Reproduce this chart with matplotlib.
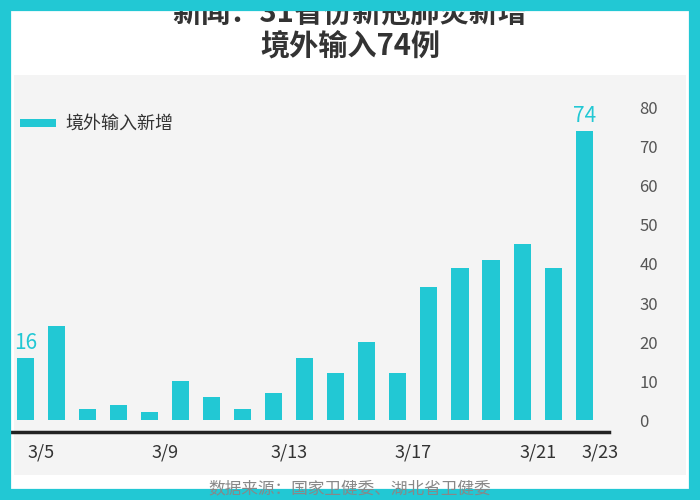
import matplotlib.pyplot as plt
from matplotlib.patches import Rectangle

plt.rcParams['font.family'] = ['Noto Sans CJK SC', 'DejaVu Sans']

dates = ["3/5", "3/6", "3/7", "3/8", "3/9", "3/10", "3/11", "3/12", "3/13", "3/14",
         "3/15", "3/16", "3/17", "3/18", "3/19", "3/20", "3/21", "3/22", "3/23"]
imported = [16, 24, 3, 4, 2, 10, 6, 3, 7, 16, 12, 20, 12, 34, 39, 41, 45, 39, 74]
shown_ticks = ["3/5", "3/9", "3/13", "3/17", "3/21", "3/23"]

CYAN = "#22c8d4"

fig = plt.figure(figsize=(7, 5), dpi=100)
fig.patch.set_facecolor("white")

# cyan frame and light grey chart panel
fig.add_artist(Rectangle((0, 0), 1, 1, transform=fig.transFigure, fill=False,
                         edgecolor=CYAN, linewidth=16, zorder=5))
fig.add_artist(Rectangle((0.02, 0.05), 0.96, 0.80, transform=fig.transFigure,
                         facecolor="#f4f4f4", edgecolor="none", zorder=-1))

ax = fig.add_axes([0.014, 0.136, 0.856, 0.68])
ax.set_facecolor("none")
x = list(range(len(dates)))
ax.bar(x, imported, width=0.55, color=CYAN, label="境外输入新增")
ax.set_xlim(-0.5, 18.8)
ax.set_ylim(-3, 84)
ax.axhline(-3, color="#222222", linewidth=2.5, clip_on=False)

for s in ax.spines.values():
    s.set_visible(False)
ax.yaxis.tick_right()
ax.set_yticks(range(0, 81, 10))
ax.tick_params(axis="y", length=0, labelsize=12, labelcolor="#555555", pad=22)
ax.set_xticks([dates.index(d) + 0.5 for d in shown_ticks])
ax.set_xticklabels(shown_ticks)
ax.tick_params(axis="x", length=0, labelsize=13, labelcolor="#333333", pad=8)

for i in (0, len(imported) - 1):
    ax.text(i, imported[i] + 1, str(imported[i]), ha="center", va="bottom",
            color=CYAN, fontsize=15)

ax.legend(loc="upper left", bbox_to_anchor=(-0.01, 0.98), frameon=False,
          fontsize=13, handlelength=2.0, handleheight=0.3, handletextpad=0.5,
          labelcolor="#333333")

fig.text(0.5, 0.975, "新闻：31省份新冠肺炎新增", ha="center", va="center",
         fontsize=21, fontweight="bold", color="#333333")
fig.text(0.5, 0.91, "境外输入74例", ha="center", va="center",
         fontsize=21, fontweight="bold", color="#333333")
fig.text(0.5, 0.022, "数据来源：国家卫健委、湖北省卫健委", ha="center", va="center",
         fontsize=12, color="#888888", zorder=6)

fig.savefig("out.png", dpi=100)
